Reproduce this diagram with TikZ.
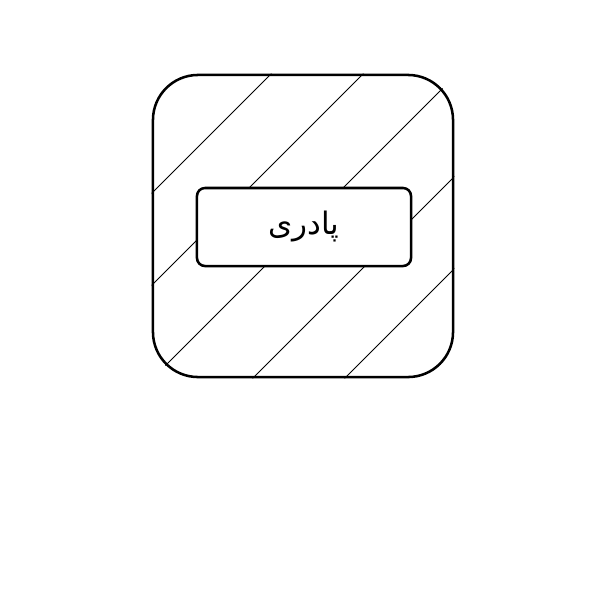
\documentclass[tikz,border=0pt]{standalone}
\usepackage{fontspec}
\newfontfamily\arabicfont[Script=Arabic]{DejaVu Sans}
\TeXXeTstate=1
\begin{document}
\begin{tikzpicture}[x=0.025cm,y=-0.025cm,
    frame/.style={draw,line width=1.8pt,inner sep=0pt},
    hatch/.style={line width=0.55pt}]
  \useasboundingbox (0,0) rectangle (600,600);
  % outer tile
  \node[frame,rounded corners=1.125cm,minimum width=7.5cm,minimum height=7.55cm] (tile) at (303,226) {};
  \begin{scope}
    \clip[rounded corners=1.125cm] (tile.south west) rectangle (tile.north east);
    \foreach \c in {345,437,531,631,723}
      \draw[hatch] (\c-400,400) -- (\c-50,50);
  \end{scope}
  % label box
  \node[frame,fill=white,rounded corners=0.2cm,minimum width=5.35cm,minimum height=1.95cm] (word) at (304,227)
    {\arabicfont\fontsize{22}{26}\selectfont\beginR پادری\endR};
\end{tikzpicture}
\end{document}
